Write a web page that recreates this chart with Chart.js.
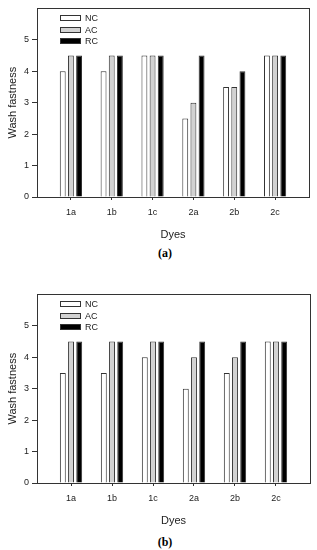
<!DOCTYPE html>
<html>
<head>
  <title>Wash fastness</title>
  <style>
    body {
      margin: 0;
      padding: 0;
      background: #ffffff;
      width: 317px;
      height: 550px;
      position: relative;
      overflow: hidden;
    }

    canvas {
      position: absolute;
      left: 0;
    }

    #chart-a { top: 0; }
    #chart-b { top: 286px; }

    .panel-label {
      position: absolute;
      width: 40px;
      margin-left: -20px;
      text-align: center;
      font-family: "Liberation Serif", serif;
      font-weight: bold;
      font-size: 12px;
      line-height: 14px;
      color: #000;
    }
  </style>
</head>
<body>

  <canvas id="chart-a" width="317" height="245"></canvas>
  <canvas id="chart-b" width="317" height="245"></canvas>
  <div class="panel-label" style="left:165px; top:246px;">(a)</div>
  <div class="panel-label" style="left:165px; top:535px;">(b)</div>

  <script src="https://cdn.jsdelivr.net/npm/chart.js"></script>
  <script>
    // values
    const dyes = ['1a', '1b', '1c', '2a', '2b', '2c'];
    const seriesNames = ['NC', 'AC', 'RC'];
    const yTicks = [0, 1, 2, 3, 4, 5];

    // panel (a)
    const ncA = [4, 4, 4.5, 2.5, 3.5, 4.5];
    const acA = [4.5, 4.5, 4.5, 3, 3.5, 4.5];
    const rcA = [4.5, 4.5, 4.5, 4.5, 4, 4.5];

    // panel (b)
    const ncB = [3.5, 3.5, 4, 3, 3.5, 4.5];
    const acB = [4.5, 4.5, 4.5, 4, 4, 4.5];
    const rcB = [4.5, 4.5, 4.5, 4.5, 4.5, 4.5];

    const fills = ['#ffffff', '#d2d2d2', '#000000'];
    const font = 'Liberation Sans';

    // box around the plot plus the legend in its top-left corner
    const framePlugin = {
      id: 'frame',
      afterDraw(chart) {
        const ctx = chart.ctx;
        const a = chart.chartArea;
        ctx.save();
        ctx.strokeStyle = '#333';
        ctx.lineWidth = 1;
        ctx.strokeRect(Math.round(a.left) + 0.5, Math.round(a.top) + 0.5,
          Math.round(a.right - a.left), Math.round(a.bottom - a.top));

        ctx.font = '9px "' + font + '"';
        ctx.textBaseline = 'middle';
        chart.data.datasets.forEach((ds, i) => {
          const x = Math.round(a.left) + 23;
          const y = Math.round(a.top) + 7 + i * 11.5;
          ctx.fillStyle = ds.backgroundColor;
          ctx.fillRect(x, Math.round(y), 21, 6);
          ctx.strokeStyle = '#333';
          ctx.strokeRect(x + 0.5, Math.round(y) + 0.5, 20, 5);
          ctx.fillStyle = '#222';
          ctx.fillText(ds.label, x + 25, Math.round(y) + 3.5);
        });
        ctx.restore();
      }
    };

    function makeChart(id, nc, ac, rc, rightPad) {
      const values = [nc, ac, rc];
      const datasets = seriesNames.map((name, i) => ({
        label: name,
        data: values[i].map((v, j) => ({ x: j + 1, y: v })),
        backgroundColor: fills[i],
        borderColor: '#333',
        borderWidth: 1,
        categoryPercentage: 0.6,
        barPercentage: 0.72
      }));

      new Chart(document.getElementById(id).getContext('2d'), {
        type: 'bar',
        data: { datasets: datasets },
        plugins: [framePlugin],
        options: {
          responsive: false,
          animation: false,
          layout: { padding: { top: 6, right: rightPad, left: 0, bottom: 3 } },
          plugins: {
            legend: { display: false },
            tooltip: { enabled: false }
          },
          scales: {
            x: {
              type: 'linear',
              min: 0.17,
              max: 6.83,
              offset: false,
              afterBuildTicks: scale => {
                scale.ticks = dyes.map((d, i) => ({ value: i + 1 }));
              },
              afterFit: scale => { scale.height = 45; },
              grid: {
                offset: false,
                drawOnChartArea: false,
                drawTicks: true,
                tickLength: 3,
                color: '#333'
              },
              border: { color: '#333' },
              ticks: {
                padding: 7,
                color: '#222',
                font: { family: font, size: 9 },
                maxRotation: 0,
                callback: v => dyes[v - 1]
              },
              title: {
                display: true,
                text: 'Dyes',
                color: '#222',
                font: { family: font, size: 11 },
                padding: { top: 0, bottom: 0 }
              }
            },
            y: {
              min: 0,
              max: 6,
              afterBuildTicks: scale => {
                scale.ticks = yTicks.map(v => ({ value: v }));
              },
              afterFit: scale => { scale.width = 37; },
              grid: {
                drawOnChartArea: false,
                drawTicks: true,
                tickLength: 5,
                color: '#333'
              },
              border: { color: '#333' },
              ticks: {
                padding: 3,
                color: '#222',
                font: { family: font, size: 9 }
              },
              title: {
                display: true,
                text: 'Wash fastness',
                color: '#222',
                font: { family: font, size: 11 },
                padding: { top: 6, bottom: 0 }
              }
            }
          }
        }
      });
    }

    makeChart('chart-a', ncA, acA, rcA, 8);
    makeChart('chart-b', ncB, acB, rcB, 7);
  </script>
</body>
</html>
